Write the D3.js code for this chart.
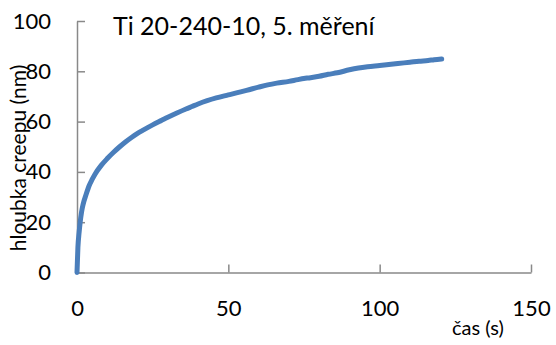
<!DOCTYPE html>
<html>
<head>
<meta charset="utf-8">
<script src="https://cdn.jsdelivr.net/npm/d3@7"></script>
<style>
  html, body { margin: 0; padding: 0; background: #fff; }
  svg { display: block; font-family: Lato, "Open Sans", sans-serif; }
</style>
</head>
<body>
<svg id="chart" width="556" height="345"></svg>
<script>
// Creep measurement: time (s) and creep depth (nm)
const timeS = [0, 0.3, 0.7, 1, 1.5, 2, 3, 4, 5, 6, 8, 10, 12, 14, 16, 18, 20, 22, 25, 28,
  30, 33, 36, 38, 40, 43, 46, 50, 53, 56, 60, 63, 66, 70, 73, 76, 80, 83, 86, 90,
  93, 96, 100, 103, 106, 110, 113, 116, 118, 120.5];
const depthNm = [0, 10, 16, 19.5, 24, 27, 31, 34.5, 37, 39.2, 42.6, 45.3, 47.7, 49.9, 51.9, 53.7, 55.3, 56.7, 58.7, 60.5,
  61.7, 63.4, 65, 66, 67, 68.3, 69.4, 70.6, 71.5, 72.4, 73.7, 74.6, 75.3, 76, 76.7, 77.3, 78, 78.8, 79.4, 80.6,
  81.3, 81.8, 82.3, 82.7, 83.1, 83.6, 84, 84.3, 84.6, 84.9];
const xTicks = [0, 50, 100, 150];
const yTicks = [0, 20, 40, 60, 80, 100];

const titleText = "Ti 20-240-10, 5. měření";
const xTitle = "čas (s)";
const yTitle = "hloubka creepu (nm)";

const svg = d3.select("#chart");
const axisColor = "#898989";
const lineColor = "#4a7ebb";

const x = d3.scaleLinear().domain([0, 150]).range([77, 531]);
const y = d3.scaleLinear().domain([0, 100]).range([272.5, 21]);

// Axes with inward ticks
const xAxis = svg.append("g").attr("transform", `translate(0,${y(0)})`)
  .call(d3.axisBottom(x).tickValues(xTicks).tickSizeInner(-8).tickSizeOuter(0).tickPadding(28));
const yAxis = svg.append("g").attr("transform", `translate(${x(0)},0)`)
  .call(d3.axisLeft(y).tickValues(yTicks).tickSizeInner(-8).tickSizeOuter(0).tickPadding(26));

[xAxis, yAxis].forEach(g => {
  g.select(".domain").attr("stroke", axisColor).attr("stroke-width", 1.5);
  g.selectAll(".tick line").attr("stroke", axisColor).attr("stroke-width", 1.5);
  g.selectAll(".tick text").attr("fill", "#000").attr("font-size", 22)
    .attr("font-family", "Lato, 'Open Sans', sans-serif");
});

// Data line
const pts = timeS.map((t, i) => [t, depthNm[i]]);
svg.append("path")
  .datum(pts)
  .attr("fill", "none")
  .attr("stroke", lineColor)
  .attr("stroke-width", 5)
  .attr("stroke-linejoin", "round")
  .attr("stroke-linecap", "round")
  .attr("d", d3.line().x(d => x(d[0])).y(d => y(d[1])).curve(d3.curveMonotoneX));

// Titles
svg.append("text").attr("x", 113).attr("y", 35)
  .attr("font-size", 25).attr("fill", "#000").text(titleText);

svg.append("text").attr("x", 452).attr("y", 335)
  .attr("font-size", 20).attr("fill", "#000").text(xTitle);

svg.append("text")
  .attr("transform", "translate(26,158) rotate(-90)")
  .attr("text-anchor", "middle")
  .attr("font-size", 21).attr("fill", "#000").text(yTitle);
</script>
</body>
</html>
